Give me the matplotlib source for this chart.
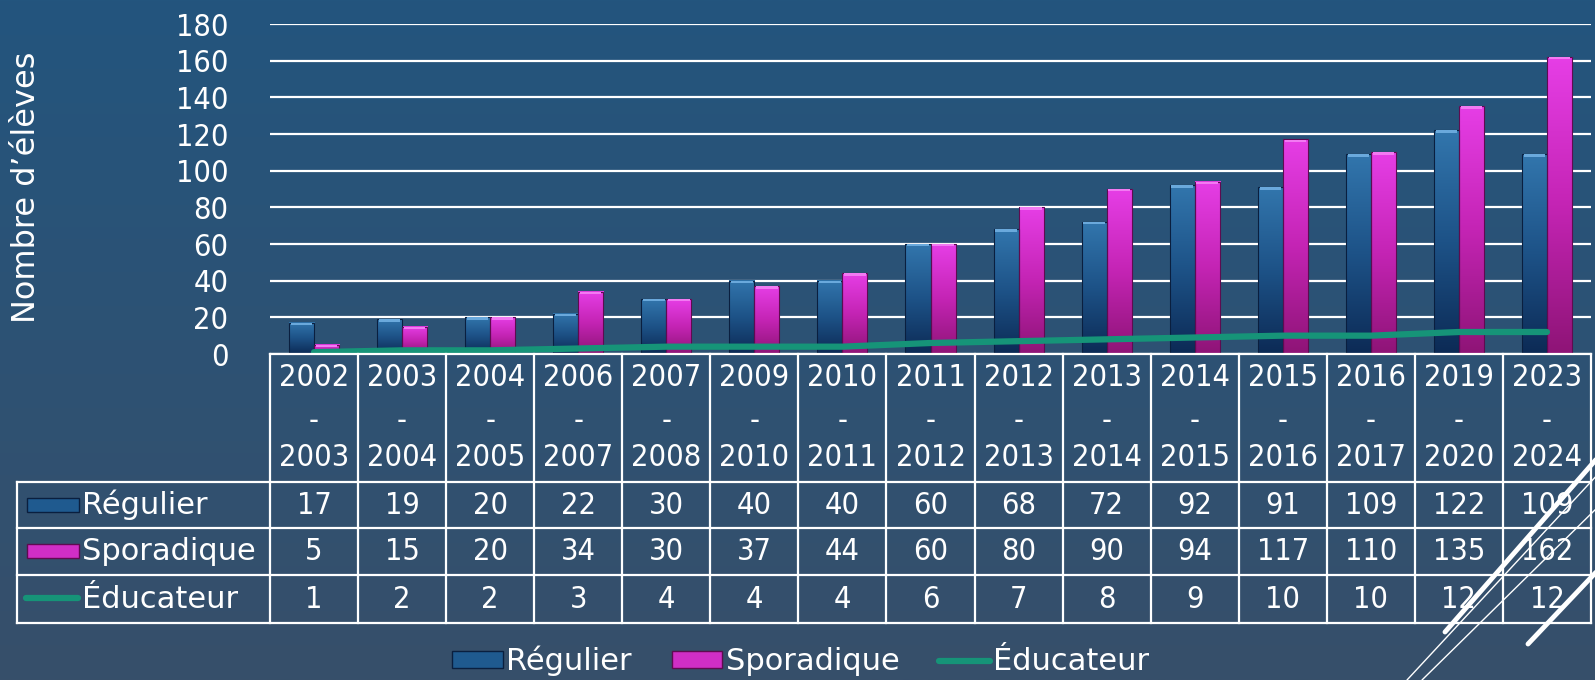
import numpy as np
import matplotlib.pyplot as plt
from matplotlib.colors import LinearSegmentedColormap
from matplotlib.patches import Rectangle, Patch
from matplotlib.lines import Line2D

plt.rcParams['font.family'] = ['DejaVu Sans']

# données
debut = [2002, 2003, 2004, 2006, 2007, 2009, 2010, 2011, 2012, 2013, 2014, 2015, 2016, 2019, 2023]
fin = [2003, 2004, 2005, 2007, 2008, 2010, 2011, 2012, 2013, 2014, 2015, 2016, 2017, 2020, 2024]
regulier = [17, 19, 20, 22, 30, 40, 40, 60, 68, 72, 92, 91, 109, 122, 109]
sporadique = [5, 15, 20, 34, 30, 37, 44, 60, 80, 90, 94, 117, 110, 135, 162]
educateur = [1, 2, 2, 3, 4, 4, 4, 6, 7, 8, 9, 10, 10, 12, 12]
series = ["Régulier", "Sporadique", "Éducateur"]
yticks = [0, 20, 40, 60, 80, 100, 120, 140, 160, 180]

W, H = 1595, 680
fig = plt.figure(figsize=(W / 100, H / 100), dpi=100)

# fond en dégradé
bg = fig.add_axes([0, 0, 1, 1], zorder=-5)
grad = np.linspace(0, 1, 256).reshape(-1, 1)
bg_cmap = LinearSegmentedColormap.from_list('bg', ['#23557e', '#374f6a'])
bg.imshow(grad, aspect='auto', cmap=bg_cmap, extent=(0, 1, 0, 1))
bg.axis('off')

# zone de tracé (coordonnées pixel de la référence)
L, R, T, B = 270, 1591, 24, 354
ax = fig.add_axes([L / W, (H - B) / H, (R - L) / W, (B - T) / H])
ax.set_facecolor('none')
for s in ax.spines.values():
    s.set_visible(False)

n = len(debut)
x = np.arange(n)
bw = 0.284

blue_cmap = LinearSegmentedColormap.from_list('b', ['#0c2a55', '#1d5287', '#3276ad'])
pink_cmap = LinearSegmentedColormap.from_list('p', ['#8e1476', '#c424b4', '#e63ee6'])

def barre_degradee(x0, h, cmap, cap, edge):
    ax.imshow(grad, extent=(x0, x0 + bw, 0, h), cmap=cmap, aspect='auto', origin='lower', zorder=2)
    ax.add_patch(Rectangle((x0, 0), bw, h, fill=False, edgecolor=edge, lw=0.8, zorder=3))
    ax.add_patch(Rectangle((x0 + 0.02, h - 1.3), bw - 0.04, 1.3, color=cap, lw=0, zorder=3))

for i in range(n):
    barre_degradee(x[i] - bw, regulier[i], blue_cmap, '#6aa9dc', '#0a1f3f')
    barre_degradee(x[i], sporadique[i], pink_cmap, '#f27af2', '#5e0b50')

ax.plot(x, educateur, color='#169478', lw=4.5, solid_capstyle='round', zorder=4)

ax.set_xlim(-0.5, n - 0.5)
ax.set_ylim(0, 180)
ax.set_yticks(yticks)
ax.set_xticks([])
ax.tick_params(axis='y', length=0, pad=30, labelcolor='white')
for lab in ax.get_yticklabels():
    lab.set_fontsize(22)
    lab.set_fontstretch('condensed')
ax.yaxis.grid(True, color='white', lw=1.6, zorder=0)
ax.set_axisbelow(True)

fig.text(27 / W, 1 - 187 / H, "Nombre d’élèves", rotation=90, color='white',
         fontsize=23, ha='center', va='center')

# tableau de données sous le graphique
def ay(ypix):
    return (B - ypix) / (B - T)

def axx(xpix):
    return (xpix - L) / (R - L)

tx = ax.get_xaxis_transform()
lc = dict(color='white', lw=1.6, clip_on=False, zorder=5)

ax.plot([-0.5, n - 0.5], [ay(354), ay(354)], transform=tx, **lc)
for yy in [482, 528, 575, 623]:
    ax.plot([axx(17), 1], [ay(yy), ay(yy)], transform=ax.transAxes, **lc)
for i in range(n + 1):
    ax.plot([i - 0.5, i - 0.5], [ay(354), ay(623)], transform=tx, **lc)
ax.plot([axx(17), axx(17)], [ay(482), ay(623)], transform=ax.transAxes, **lc)

txt = dict(color='white', fontsize=22, fontstretch='condensed', ha='center', va='center',
           clip_on=False)
for i in range(n):
    ax.text(x[i], ay(378), str(debut[i]), transform=tx, **txt)
    ax.text(x[i], ay(420), "-", transform=tx, **txt)
    ax.text(x[i], ay(457), str(fin[i]), transform=tx, **txt)
    ax.text(x[i], ay(505), str(regulier[i]), transform=tx, **txt)
    ax.text(x[i], ay(551), str(sporadique[i]), transform=tx, **txt)
    ax.text(x[i], ay(599), str(educateur[i]), transform=tx, **txt)

# légendes des lignes du tableau
rows_y = [505, 551, 599]
ax.add_patch(Rectangle((axx(27), ay(512)), axx(79) - axx(27), ay(498) - ay(512),
                       transform=ax.transAxes, facecolor='#1f5a8f', edgecolor='#0a1f3f',
                       lw=1, clip_on=False))
ax.add_patch(Rectangle((axx(27), ay(558)), axx(79) - axx(27), ay(544) - ay(558),
                       transform=ax.transAxes, facecolor='#d02ec6', edgecolor='#5e0b50',
                       lw=1, clip_on=False))
ax.plot([axx(26), axx(78)], [ay(598), ay(598)], transform=ax.transAxes, color='#169478',
        lw=4.5, solid_capstyle='round', clip_on=False)
for yy, nom in zip(rows_y, series):
    ax.text(axx(82), ay(yy), nom, transform=ax.transAxes, color='white', fontsize=22,
            ha='left', va='center', clip_on=False)

# légende en bas
handles = [Patch(facecolor='#1f5a8f', edgecolor='#0a1f3f'),
           Patch(facecolor='#d02ec6', edgecolor='#5e0b50'),
           Line2D([0], [0], color='#169478', lw=4.5, solid_capstyle='round')]
leg = fig.legend(handles, series, loc='center', bbox_to_anchor=(801 / W, 1 - 661 / H),
                 ncol=3, frameon=False, fontsize=22, handlelength=1.65, handleheight=0.45,
                 handletextpad=0.12, columnspacing=1.3, labelcolor='white',
                 borderpad=0, borderaxespad=0)

# décor diagonal en bas à droite
deco = [((1445, 632), (1600, 455), 3.5), ((1528, 644), (1600, 568), 3.5),
        ((1407, 680), (1600, 472), 1.0), ((1422, 680), (1600, 505), 1.0)]
for (x0, y0), (x1, y1), lw in deco:
    fig.add_artist(Line2D([x0 / W, x1 / W], [1 - y0 / H, 1 - y1 / H], color='white',
                          lw=lw, solid_capstyle='round', transform=fig.transFigure))

fig.savefig("out.png", dpi=100)
